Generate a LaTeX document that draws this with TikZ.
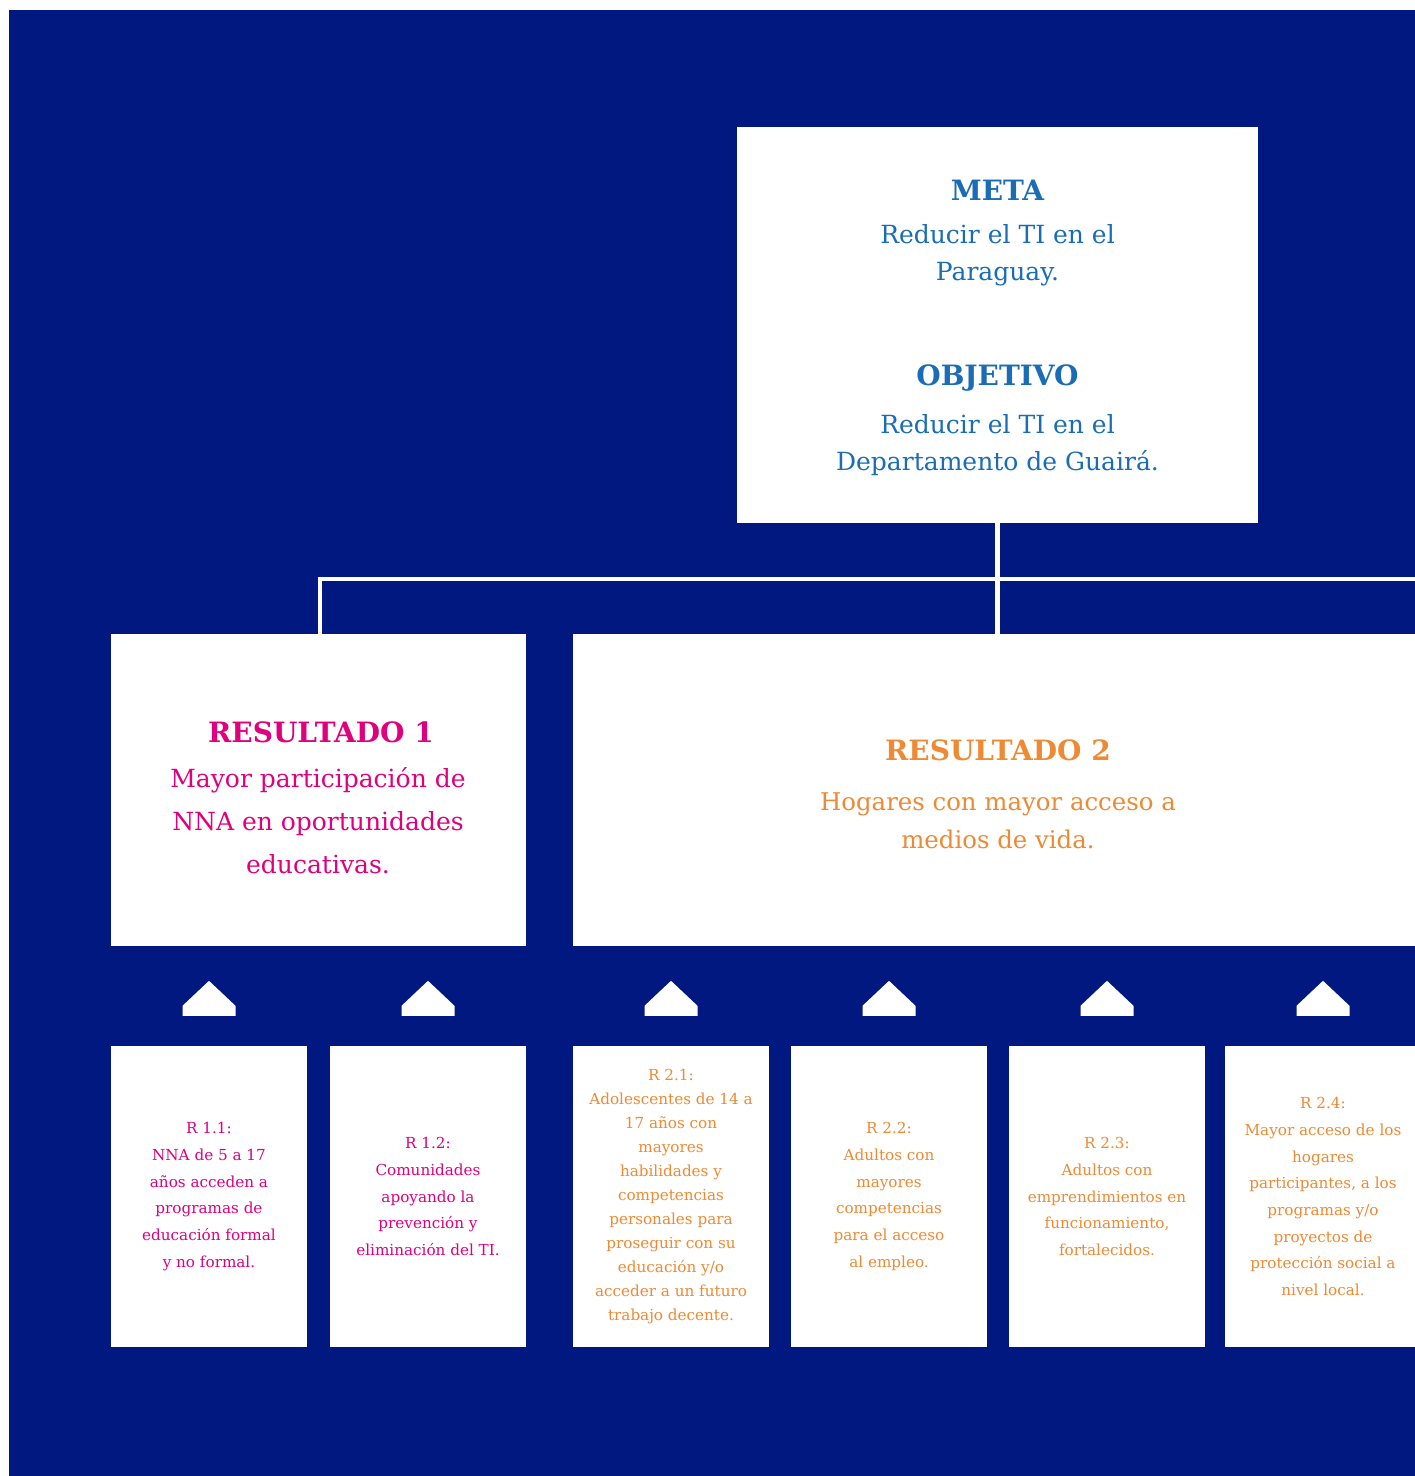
\documentclass[tikz,border=0pt]{standalone}
\usepackage{fontspec}
\setmainfont{DejaVu Serif}
\usetikzlibrary{calc}
\definecolor{navy}{HTML}{001880}
\definecolor{metablue}{HTML}{1A6DB4}
\definecolor{pink}{HTML}{E0007E}
\definecolor{amber}{HTML}{EE8A33}

\begin{document}
\begin{tikzpicture}[x=1pt, y=-1pt,
  box/.style={fill=white, draw=none, rectangle, inner sep=0pt},
  headline/.style={font={\fontsize{28}{34}\selectfont\bfseries}, anchor=base},
  body/.style={font={\fontsize{25}{37}\selectfont}, align=center, anchor=base},
  small/.style={box, minimum width=196, minimum height=301, align=center,
    font={\fontsize{15.2}{26.7}\selectfont}},
  wire/.style={draw=white, line width=4.5pt},
  arrowhead/.style={fill=white}]
\fill[white] (0,0) rectangle (1415,1476);
\fill[navy] (9,10) rectangle (1415,1476);
\useasboundingbox (0,0) rectangle (1415,1476);

% top box
\node[box, minimum width=521, minimum height=396] (meta) at (997.5,325) {};
\node[headline, text=metablue] (metatitle) at (997.5,200) {META};
\node[body, text=metablue] (metatext) at (997.5,280) {Reducir el TI en el\\Paraguay.};
\node[headline, text=metablue] (objtitle) at (997.5,385) {OBJETIVO};
\node[body, text=metablue] (objtext) at (997.5,470) {Reducir el TI en el\\Departamento de Guairá.};

% results
\node[box, minimum width=415, minimum height=312] (res1) at (318.5,790) {};
\node[headline, text=pink] (res1title) at (321,742) {RESULTADO 1};
\node[body, text=pink, font={\fontsize{25}{43}\selectfont}] (res1text) at (318,873)
  {Mayor participación de\\NNA en oportunidades\\educativas.};
\node[box, minimum width=850, minimum height=312] (res2) at (998,790) {};
\node[headline, text=amber] (res2title) at (998,760) {RESULTADO 2};
\node[body, text=amber, font={\fontsize{24.4}{38}\selectfont}] (res2text) at (998,848)
  {Hogares con mayor acceso a\\medios de vida.};

% connectors
\coordinate (busend) at (1430,579);
\draw[wire] (meta.south) -- (meta.south |- res2.north);
\draw[wire] ($(res1.north)+(1.5,0)$) |- (busend);

% sub-results
\node[small, text=pink] (r11) at (209,1196.5)
  {R 1.1:\\NNA de 5 a 17\\años acceden a\\programas de\\educación formal\\y no formal.};
\node[small, text=pink] (r12) at (428,1196.5)
  {R 1.2:\\Comunidades\\apoyando la\\prevención y\\eliminación del TI.};
\node[small, text=amber, font={\fontsize{15.2}{24}\selectfont}] (r21) at (671,1196.5)
  {R 2.1:\\Adolescentes de 14 a\\17 años con\\mayores\\habilidades y\\competencias\\personales para\\proseguir con su\\educación y/o\\acceder a un futuro\\trabajo decente.};
\node[small, text=amber] (r22) at (889,1196.5)
  {R 2.2:\\Adultos con\\mayores\\competencias\\para el acceso\\al empleo.};
\node[small, text=amber] (r23) at (1107,1196.5)
  {R 2.3:\\Adultos con\\emprendimientos en\\funcionamiento,\\fortalecidos.};
\node[small, text=amber] (r24) at (1323,1196.5)
  {R 2.4:\\Mayor acceso de los\\hogares\\participantes, a los\\programas y/o\\proyectos de\\protección social a\\nivel local.};

% up marks
\foreach \n in {r11,r12,r21,r22,r23,r24}
  \fill[arrowhead] ($(\n.north)+(-26.5,-30)$) -- ++(0,-10) -- ++(26.5,-25)
    -- ++(26.5,25) -- ++(0,10) -- cycle;
\end{tikzpicture}
\end{document}
